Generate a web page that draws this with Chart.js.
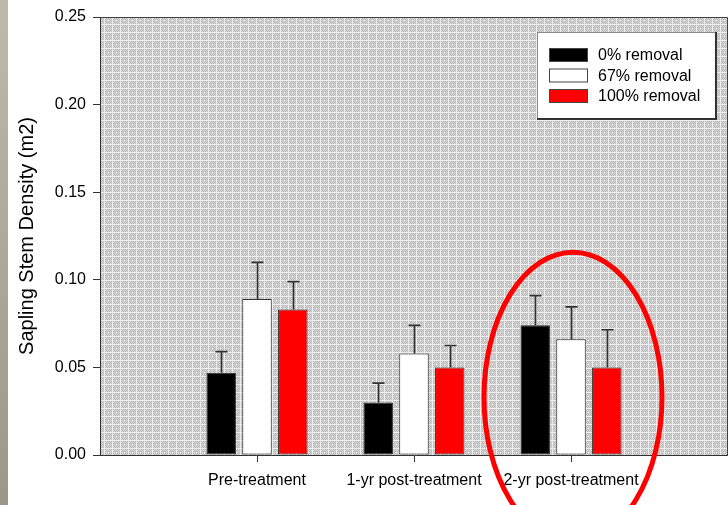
<!DOCTYPE html>
<html>
<head>
<meta charset="utf-8">
<script src="https://cdn.jsdelivr.net/npm/chart.js@4/dist/chart.umd.min.js"></script>
<style>
  html, body { margin: 0; padding: 0; background: #fff; }
  #wrap { position: relative; width: 728px; height: 505px; overflow: hidden; }
  #strip { position: absolute; left: 0; top: 0; width: 8px; height: 505px;
           background: linear-gradient(#bdb9ab, #9b988a); }
  canvas { position: absolute; left: 0; top: 0; }
</style>
</head>
<body>
<div id="wrap">
  <canvas id="chart" width="728" height="505"></canvas>
  <div id="strip"></div>
</div>
<script>
// Sampling periods (blank slots pad both ends of the axis)
const periods = ['', 'Pre-treatment', '1-yr post-treatment', '2-yr post-treatment', ''];
const seriesNames = ['0% removal', '67% removal', '100% removal'];
const seriesColors = ['#000000', '#ffffff', '#ff0000'];

// Mean sapling stem density per period
const removal0   = [null, 0.047, 0.030, 0.074, null];
const removal67  = [null, 0.089, 0.058, 0.066, null];
const removal100 = [null, 0.083, 0.050, 0.050, null];

// Upper error (added to the mean)
const err0   = [null, 0.012, 0.011, 0.017, null];
const err67  = [null, 0.021, 0.016, 0.0185, null];
const err100 = [null, 0.016, 0.0125, 0.0215, null];

const yTicks = [0, 0.05, 0.10, 0.15, 0.20, 0.25];

const FONT = '"Liberation Sans", Arial, sans-serif';

function hatchPattern(ctx) {
  const c = document.createElement('canvas');
  c.width = 8; c.height = 8;
  const g = c.getContext('2d');
  g.fillStyle = '#d2d2d2';
  g.fillRect(0, 0, 8, 8);
  g.fillStyle = '#bfbfbf';
  for (let y = 0; y < 8; y++)
    for (let x = 0; x < 8; x++)
      if ((x + y) % 2 === 0) g.fillRect(x, y, 1, 1);
  g.fillStyle = '#ededed';
  g.fillRect(0, 0, 8, 1);
  g.fillRect(0, 0, 1, 8);
  g.fillRect(4, 4, 1, 1);
  return ctx.createPattern(c, 'repeat');
}

// Shaded plot background with a frame
const plotBackground = {
  id: 'plotBackground',
  beforeDraw(chart) {
    const { ctx, chartArea: a } = chart;
    ctx.save();
    ctx.fillStyle = hatchPattern(ctx);
    ctx.fillRect(a.left, a.top, a.right - a.left, a.bottom - a.top);
    ctx.strokeStyle = '#444';
    ctx.lineWidth = 1;
    ctx.beginPath();
    ctx.moveTo(a.left, a.top + 0.5);
    ctx.lineTo(a.right - 0.5, a.top + 0.5);
    ctx.lineTo(a.right - 0.5, a.bottom);
    ctx.stroke();
    ctx.restore();
  }
};

// One-sided error bars with caps
const errorBars = {
  id: 'errorBars',
  afterDatasetsDraw(chart) {
    const { ctx } = chart;
    const y = chart.scales.y;
    const errs = [err0, err67, err100];
    ctx.save();
    ctx.strokeStyle = '#333';
    ctx.lineWidth = 1.7;
    chart.data.datasets.forEach((ds, di) => {
      const meta = chart.getDatasetMeta(di);
      meta.data.forEach((bar, i) => {
        const v = ds.data[i];
        const e = errs[di][i];
        if (v == null || e == null) return;
        const x = Math.round(bar.x) + 0.5;
        const top = y.getPixelForValue(v + e);
        const base = y.getPixelForValue(v);
        ctx.beginPath();
        ctx.moveTo(x, base);
        ctx.lineTo(x, top);
        ctx.moveTo(x - 6, top);
        ctx.lineTo(x + 6, top);
        ctx.stroke();
      });
    });
    ctx.restore();
  }
};

// Boxed legend in the upper right of the plot
const boxLegend = {
  id: 'boxLegend',
  afterDatasetsDraw(chart) {
    const { ctx, chartArea: a } = chart;
    const bx = a.right - 191, by = a.top + 15, bw = 180, bh = 88;
    ctx.save();
    ctx.fillStyle = '#fff';
    ctx.fillRect(bx, by, bw, bh);
    ctx.strokeStyle = '#888';
    ctx.lineWidth = 1;
    ctx.strokeRect(bx + 0.5, by + 0.5, bw - 1, bh - 1);
    ctx.strokeStyle = '#333';
    ctx.lineWidth = 2;
    ctx.beginPath();
    ctx.moveTo(bx + bw - 1, by);
    ctx.lineTo(bx + bw - 1, by + bh - 1);
    ctx.lineTo(bx, by + bh - 1);
    ctx.stroke();
    ctx.font = '16px ' + FONT;
    ctx.textBaseline = 'middle';
    seriesNames.forEach((name, i) => {
      const cy = by + 23 + i * 20.5;
      ctx.fillStyle = seriesColors[i];
      ctx.fillRect(bx + 12, cy - 7, 39, 14);
      ctx.strokeStyle = '#444';
      ctx.lineWidth = 1;
      ctx.strokeRect(bx + 12.5, cy - 6.5, 38, 13);
      ctx.fillStyle = '#000';
      ctx.fillText(name, bx + 61, cy + 1);
    });
    ctx.restore();
  }
};

// Red ellipse highlighting the 2-yr post-treatment group
const highlight = {
  id: 'highlight',
  afterDraw(chart) {
    const { ctx } = chart;
    const x = chart.scales.x, y = chart.scales.y;
    const cx = x.getPixelForValue(3) + 2;
    const cy = y.getPixelForValue(0.033);
    ctx.save();
    ctx.strokeStyle = '#ff0000';
    ctx.lineWidth = 5;
    ctx.beginPath();
    ctx.ellipse(cx, cy, 89, 145, 0, 0, Math.PI * 2);
    ctx.stroke();
    ctx.restore();
  }
};

const barStyle = {
  borderColor: '#333',
  borderWidth: 1,
  borderSkipped: false,
  categoryPercentage: 0.684,
  barPercentage: 0.824
};

new Chart(document.getElementById('chart'), {
  type: 'bar',
  data: {
    labels: periods,
    datasets: [
      Object.assign({ label: seriesNames[0], data: removal0,   backgroundColor: seriesColors[0] }, barStyle),
      Object.assign({ label: seriesNames[1], data: removal67,  backgroundColor: seriesColors[1] }, barStyle),
      Object.assign({ label: seriesNames[2], data: removal100, backgroundColor: seriesColors[2] }, barStyle)
    ]
  },
  options: {
    responsive: false,
    animation: false,
    layout: { padding: { top: 17, right: 0, bottom: 0, left: 0 } },
    plugins: { legend: { display: false }, tooltip: { enabled: false } },
    scales: {
      x: {
        offset: false,
        border: { color: '#333', width: 1 },
        grid: {
          offset: false,
          drawOnChartArea: false,
          tickLength: 7,
          tickColor: c => (c.index === 0 || c.index === periods.length - 1) ? 'rgba(0,0,0,0)' : '#333'
        },
        ticks: {
          color: '#000', font: { family: FONT, size: 16 },
          padding: 9, maxRotation: 0, autoSkip: false
        },
        afterFit: s => { s.height = 50; s.paddingLeft = 0; s.paddingRight = 0; }
      },
      y: {
        min: 0, max: 0.25,
        border: { color: '#333', width: 1 },
        grid: { drawOnChartArea: false, tickLength: 7, tickColor: '#333' },
        afterBuildTicks: s => { s.ticks = yTicks.map(v => ({ value: v })); },
        ticks: {
          color: '#000', font: { family: FONT, size: 16 }, padding: 7,
          callback: v => Number(v).toFixed(2)
        },
        title: {
          display: true, text: 'Sapling Stem Density (m2)',
          color: '#000', font: { family: FONT, size: 20 },
          padding: { top: 15, bottom: 0 }
        },
        afterFit: s => { s.width = 100; }
      }
    }
  },
  plugins: [plotBackground, errorBars, boxLegend, highlight]
});
</script>
</body>
</html>
